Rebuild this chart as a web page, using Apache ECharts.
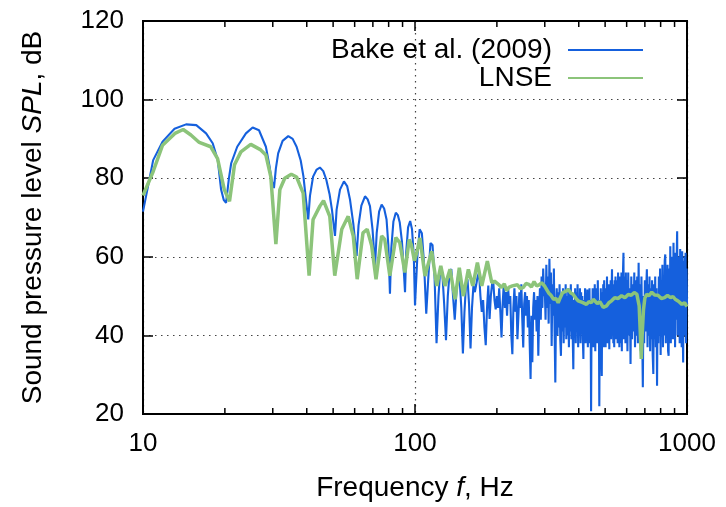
<!DOCTYPE html>
<html>
<head>
<meta charset="utf-8">
<script src="https://cdn.jsdelivr.net/npm/echarts@6/dist/echarts.min.js"></script>
<style>
html, body { margin: 0; padding: 0; background: #fff; }
#chart { width: 726px; height: 507px; }
</style>
</head>
<body>
<div id="chart"></div>
<script>
// Bake et al. (2009), smooth lobes below 100 Hz: [frequency Hz, SPL dB]
var bakeSmooth = [
    [10, 71.5], [10.9, 84.6], [11.8, 89.3], [13.06, 92.6], [14.4, 93.7], [15.7, 93.5], [17.06, 91.4],
    [18.04, 88.9], [18.83, 84.6], [19.37, 77.1], [19.8, 74.5], [20.2, 73.7], [20.7, 80], [21.1, 83.8],
    [22.2, 88], [23.9, 91.4], [25.3, 92.9], [26.7, 92.2], [28.3, 88], [29.2, 83], [29.7, 79.5], [30.3, 77.5],
    [30.8, 82.5], [31.4, 86.3], [32.6, 89.5], [34.2, 90.7], [35.5, 90], [36.7, 88], [38.0, 84.5], [38.9, 80.4],
    [39.8, 74], [40.5, 69.5], [41.1, 75.5], [42.2, 80.4], [43.5, 82.2], [44.7, 82.7], [46.0, 81.8], [47.2, 79.6],
    [48.5, 76], [49.5, 72], [50.8, 65.3], [51.5, 72], [53.0, 77.1], [54.8, 79.2], [56.3, 78], [57.7, 74.5],
    [59.3, 68.5], [61.0, 60.2], [62.0, 68], [63.5, 73], [65.5, 75.4], [67, 74.6], [68.3, 72.9], [69.8, 67],
    [71.3, 57.7], [72.3, 66], [73.8, 71.5], [75.4, 73.3], [77, 72.3], [78.6, 69.5], [79.8, 63], [80.9, 50.6],
    [81.8, 62], [83.3, 69], [85.0, 71.2], [86.5, 70.6], [87.9, 68.7], [89.5, 64], [90.7, 58], [91.9, 51],
    [92.8, 61], [94.3, 67.5], [96, 69.1], [97.5, 67], [99, 60]
];

// Bake, 100..298 Hz every 2 Hz
var bakeStart1 = 100, bakeStep1 = 2;
var bakeNoise1 = [
    47.6, 60, 67, 66, 58, 45.5, 55, 63.5, 63, 55,
    38, 50, 57.3, 56, 48, 38.8, 50, 56, 56.9, 50,
    44, 51, 55.2, 54, 47, 35.4, 46, 53, 54.3, 48,
    36.7, 47, 52.7, 51, 53, 55, 56, 50, 46, 49,
    42, 37.5, 47, 52.7, 44.2, 50, 53, 53.6, 49, 46.6,
    50, 47, 52, 46, 39.5, 48, 53, 47, 51, 45,
    52, 48, 50, 40, 35.2, 47, 52, 46, 50, 39,
    45, 51, 47, 53, 44, 36.9, 48, 51, 45, 50,
    42, 49, 38, 28.9, 45, 33.2, 47, 51, 44, 49,
    41, 50, 34.8, 46, 52, 44, 55, 47, 57, 50
];

// Bake, 300..598 Hz every 2 Hz
var bakeStart2 = 300, bakeStep2 = 2;
var bakeNoise2 = [
    52, 44, 58, 47, 55, 43, 59.5, 48, 56, 37.3,
    53, 45, 57, 41, 28, 47, 52, 40, 51, 42,
    53, 39, 34.8, 50, 41, 52, 38, 51, 42, 53,
    39, 50, 40, 52, 37, 51, 41, 53, 39, 50,
    40, 31.4, 49, 42, 52, 38, 51, 41, 53, 37,
    50, 40, 52, 38, 51, 42, 50, 39, 34, 49,
    41, 52, 38, 50, 40, 51.7, 37, 50, 41, 52,
    38, 49, 20.7, 48, 40, 52, 37, 51, 39, 53,
    36, 50, 41, 52, 38, 54, 40, 49, 22, 47,
    39, 52, 35, 29.7, 51, 40, 53, 37, 54, 41,
    50, 37, 52, 40, 55, 38, 51, 41, 53, 36.5,
    52, 40, 54, 39, 51, 56.8, 41, 53, 38, 52,
    37, 54, 40, 55, 39, 52, 41, 54, 38, 56,
    40, 53, 37, 55, 41, 52, 38, 56, 36, 54,
    40, 57, 61, 39, 55, 42, 53, 38, 56, 40
];

// Bake, 600..1000 Hz every 4 Hz
var bakeStart3 = 600, bakeStep3 = 4;
var bakeNoise3 = [
    54, 36, 56, 40, 52,
    32.7, 55, 39, 53, 41, 56, 37, 54, 40, 55,
    38, 58.5, 40, 53, 36, 55, 42, 26.8, 50, 38,
    54, 41, 52, 56.8, 37, 53, 40, 55, 36, 52,
    39, 54, 35, 30.2, 53, 39, 55, 37, 52, 27.2,
    50, 38, 55, 40, 57, 35, 54, 41, 58, 37,
    55, 40, 59, 60.6, 38, 56, 42, 58, 36, 34.8,
    57, 40, 62.7, 38, 58, 43, 60, 39, 63.6, 41,
    58, 37, 61, 44, 59, 66.5, 40, 57, 41.6, 60,
    38, 62, 43, 58, 37, 61.4, 42, 33.1, 59, 40,
    60, 44, 61, 38, 57, 48
];

// LNSE: [frequency Hz, SPL dB]
var lnse = [
    [10, 75.6], [10.9, 81.7], [11.8, 88.4], [13.1, 91.4], [14.05, 92.4], [15.0, 91], [16.1, 89.1],
    [17.75, 88], [18.8, 85], [19.9, 77.1], [20.8, 74.1], [21.7, 83.4], [22.9, 86.7], [24.9, 88.6],
    [27.1, 87.2], [28.3, 85.9], [29.5, 80.4], [30.8, 63.2], [31.85, 77.1], [33.2, 80], [35.1, 81],
    [36.7, 80.3], [38.8, 76.2], [40.8, 55.2], [42.2, 69.5], [44.7, 72.9], [46.1, 74.3], [48.6, 70.3],
    [50.7, 55.2], [53.8, 67], [56.8, 70.3], [59.3, 65.3], [61.3, 54.3], [64.4, 66.1], [66.7, 67],
    [69.3, 62.8], [71.9, 54.3], [75.4, 65.3], [77.4, 64.4], [80.8, 55.2], [85.0, 64.9], [87.9, 63.6],
    [91.8, 56], [95.2, 64.4], [97, 63], [99.5, 59], [101.5, 61], [104.3, 64.8], [108.8, 55.1],
    [115.2, 61.4], [120.2, 52.6], [124.4, 57.7], [128.9, 52.6], [134.5, 56.8], [140.4, 49.2],
    [145.5, 57.2], [150.6, 50], [157.1, 56.8], [163.1, 52.6], [169.6, 58.5], [176, 52.6], [184.5, 58.9],
    [191.6, 53.4], [196, 53.8], [202.6, 53], [208, 52.2], [213, 53.1], [217, 51.4], [222, 52.3], [228, 52.6],
    [238, 52.9], [244, 51.9], [250, 52.2], [256, 53.2], [262, 53], [268, 52.3], [274, 53.7], [280, 52.6],
    [285, 52.8], [292, 53.4], [300, 52.5], [310, 50.8], [316, 50.2], [323, 49.2], [330, 49.4], [336, 48.3],
    [342, 49.6], [349, 50.9], [358, 51.2], [366, 51.7], [374, 50.8], [381, 50.5], [390, 49.5], [398, 48.8],
    [412, 48.4], [427, 47.9], [436, 48.6], [445, 48.3], [452, 49.2], [459, 48.8], [468, 48.1], [478, 48.6],
    [492, 47.1], [506, 47.5], [516, 48.3], [528, 48.8], [542, 49.6], [559, 49.4], [575, 50.1], [591, 49.6],
    [608, 50.4], [624, 50.2], [640, 50.9], [654, 50.5], [667, 47.5], [674, 40], [679, 34], [684, 40],
    [692, 46.6], [700, 49.5], [711, 50.5], [725, 50.1], [742, 51], [760, 50.3], [782, 50.2], [805, 49.4],
    [827, 49.6], [848, 50.2], [870, 49.6], [888, 49.9], [905, 49.2], [930, 48.7], [958, 47.9], [980, 48.3],
    [1000, 47.3]
];

var minorTicks = [20, 30, 40, 50, 60, 70, 80, 90, 200, 300, 400, 500, 600, 700, 800, 900];
var seriesNames = ['Bake et al. (2009)', 'LNSE'];

var font = 'Liberation Sans';

function toPairs(values, start, step) {
    return values.map(function (v, i) { return [start + step * i, v]; });
}

var bakeData = bakeSmooth
    .concat(toPairs(bakeNoise1, bakeStart1, bakeStep1))
    .concat(toPairs(bakeNoise2, bakeStart2, bakeStep2))
    .concat(toPairs(bakeNoise3, bakeStart3, bakeStep3));

var myChart = echarts.init(document.getElementById('chart'));

var dotted = { color: '#444', type: [1.5, 4.5], width: 1.2 };

var option = {
    animation: false,
    backgroundColor: '#fff',
    grid: { left: 143, right: 39, top: 21, bottom: 92, show: true, borderColor: '#000', borderWidth: 2 },
    legend: {
        data: seriesNames,
        orient: 'vertical',
        align: 'right',
        right: 77,
        top: 31,
        itemWidth: 75,
        itemHeight: 14,
        itemGap: 0,
        itemStyle: { opacity: 0, color: 'rgba(0,0,0,0)', borderWidth: 0 },
        textStyle: { fontSize: 28, color: '#000', fontFamily: font, lineHeight: 28, padding: [0, 11, 0, 0] }
    },
    xAxis: [{
        type: 'log', logBase: 10, min: 10, max: 1000, position: 'bottom',
        axisLine: { show: true, lineStyle: { color: '#000', width: 2 } },
        axisTick: { inside: true, length: 10, lineStyle: { color: '#000', width: 1.5 } },
        axisLabel: {
            fontSize: 26, color: '#000', fontFamily: font, margin: 17,
            formatter: function (v) { return String(Math.round(v)); }
        },
        splitLine: { show: true, lineStyle: dotted },
        name: 'Frequency {i|f}, Hz',
        nameLocation: 'middle',
        nameGap: 60,
        nameTextStyle: {
            fontSize: 28, color: '#000', fontFamily: font,
            rich: { i: { fontSize: 28, color: '#000', fontFamily: font, fontStyle: 'italic' } }
        }
    }, {
        type: 'log', logBase: 10, min: 10, max: 1000, position: 'top',
        axisLine: { show: true, lineStyle: { color: '#000', width: 2 } },
        axisTick: { inside: true, length: 10, lineStyle: { color: '#000', width: 1.5 } },
        axisLabel: { show: false },
        splitLine: { show: false }
    }],
    yAxis: [{
        type: 'value', min: 20, max: 120, interval: 20, position: 'left',
        axisLine: { show: true, lineStyle: { color: '#000', width: 2 } },
        axisTick: { inside: true, length: 10, lineStyle: { color: '#000', width: 1.5 } },
        axisLabel: { fontSize: 26, color: '#000', fontFamily: font, margin: 19 },
        splitLine: { show: true, lineStyle: dotted },
        name: 'Sound pressure level {i|SPL}, dB',
        nameLocation: 'middle',
        nameRotate: 90,
        nameGap: 96,
        nameTextStyle: {
            fontSize: 28, color: '#000', fontFamily: font,
            rich: { i: { fontSize: 28, color: '#000', fontFamily: font, fontStyle: 'italic' } }
        }
    }, {
        type: 'value', min: 20, max: 120, interval: 20, position: 'right',
        axisLine: { show: true, lineStyle: { color: '#000', width: 2 } },
        axisTick: { inside: true, length: 10, lineStyle: { color: '#000', width: 1.5 } },
        axisLabel: { show: false },
        splitLine: { show: false }
    }],
    series: [
        {
            name: seriesNames[0],
            type: 'line',
            data: bakeData,
            symbol: 'none',
            lineStyle: { color: '#1560dd', width: 2.1 },
            itemStyle: { color: '#1560dd' },
            z: 2
        },
        {
            name: seriesNames[1],
            type: 'line',
            data: lnse,
            symbol: 'none',
            lineStyle: { color: '#8cc47a', width: 3.5 },
            itemStyle: { color: '#8cc47a' },
            z: 3
        },
        {
            // minor ticks of the log axis, bottom and top
            type: 'custom',
            silent: true,
            data: minorTicks.map(function (f) { return [f, 20]; }),
            renderItem: function (params, api) {
                var b = api.coord([api.value(0), 20]);
                var t = api.coord([api.value(0), 120]);
                return {
                    type: 'group',
                    children: [
                        { type: 'line', shape: { x1: b[0], y1: b[1], x2: b[0], y2: b[1] - 6 }, style: { stroke: '#000', lineWidth: 1.5 } },
                        { type: 'line', shape: { x1: t[0], y1: t[1], x2: t[0], y2: t[1] + 6 }, style: { stroke: '#000', lineWidth: 1.5 } }
                    ]
                };
            },
            z: 5
        }
    ]
};

myChart.setOption(option);
</script>
</body>
</html>
